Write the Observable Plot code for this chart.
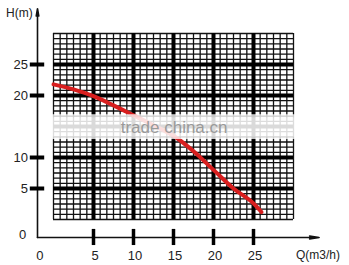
<!DOCTYPE html>
<html>
<head>
<meta charset="utf-8">
<script src="https://cdn.jsdelivr.net/npm/d3@7"></script>
<script src="https://cdn.jsdelivr.net/npm/@observablehq/plot@0.6"></script>
<style>
  html, body { margin: 0; padding: 0; background: #fff; }
  #chart svg { display: block; }
</style>
</head>
<body>
<div id="chart"></div>
<script>
// Pump curve: flow Q (m3/h) vs head H (m)
const flowQ = [0, 2.5, 5, 7.5, 10, 12.5, 15, 17.5, 20, 22.5, 25, 26];
const headH = [21.8, 21, 19.9, 18.4, 16.8, 15.2, 13.5, 11, 8, 5, 2.6, 1.2];
const xTickLabels = ["0", "5", "10", "15", "20", "25"];
const xTickValues = [0, 5, 10, 15, 20, 25];
const yTickLabels = ["0", "5", "10", "20", "25"];
const yTickValues = [0, 5, 10, 20, 25];
const xTitle = "Q(m3/h)";
const yTitle = "H(m)";
const watermark = "trade china.cn";

const curve = flowQ.map((q, i) => ({q, h: headH[i]}));

// layout constants (in data units, outside the grid)
const AX = -2;      // y-axis line position (Q)
const AY = -2.9;    // x-axis line position (H)
const GMAX = 30;
const fine = d3.range(0, 37).map(k => k * 5 / 6);
const major = [5, 10, 15, 20, 25];
const font = "Liberation Sans, Arial, sans-serif";

const chart = Plot.plot({
  width: 349,
  height: 265,
  margin: 0,
  style: {background: "#fff", fontFamily: font},
  x: {domain: [0, GMAX], range: [53, 293], axis: null},
  y: {domain: [0, GMAX], range: [219, 33], axis: null},
  marks: [
    // fine grid
    Plot.ruleX(fine, {y1: 0, y2: GMAX, stroke: "#111", strokeWidth: 1.3}),
    Plot.ruleY(fine, {x1: 0, x2: GMAX, stroke: "#111", strokeWidth: 1.3}),
    // major grid
    Plot.ruleX(major, {y1: 0, y2: GMAX, stroke: "#000", strokeWidth: 4}),
    Plot.ruleY(major, {x1: 0, x2: GMAX, stroke: "#000", strokeWidth: 4}),
    // curve
    Plot.line(curve, {x: "q", y: "h", stroke: "#d81e1e", strokeWidth: 4, curve: "monotone-x"}),
    // watermark band
    Plot.rect([0], {x1: -2.9, x2: 31, y1: 12.9, y2: 16.9, fill: "#fff", fillOpacity: 0.78}),
    Plot.rect([0], {x1: -2.6, x2: 30.5, y1: 13.3, y2: 16.4, fill: "#fff", fillOpacity: 0.35}),
    Plot.text([watermark], {x: 8.4, y: 14.9, text: d => d, textAnchor: "start", fontSize: 17, fill: "#9a9a9a", fontWeight: 300}),
    // axes
    Plot.arrow([0], {x1: AX, y1: AY, x2: AX, y2: 34, stroke: "#111", strokeWidth: 1.6, headLength: 7, headAngle: 20}),
    Plot.arrow([0], {x1: AX, y1: AY, x2: 33.2, y2: AY, stroke: "#111", strokeWidth: 1.6, headLength: 9, headAngle: 18}),
    // ticks
    Plot.ruleY(yTickValues.filter(v => v > 0), {x1: -2.9, x2: -1.1, stroke: "#000", strokeWidth: 4}),
    Plot.ruleX(xTickValues.filter(v => v > 0), {y1: -1.6, y2: -4.2, stroke: "#000", strokeWidth: 3.5}),
    // tick labels
    Plot.text(yTickValues.filter(v => v > 0), {x: -3.2, y: d => d, text: (d, i) => yTickLabels[i + 1], textAnchor: "end", fontSize: 13, fill: "#222", fontFamily: font}),
    Plot.text([yTickLabels[0]], {x: -3.4, y: -2.5, text: d => d, textAnchor: "end", fontSize: 13, fill: "#222", fontFamily: font}),
    Plot.text(xTickValues, {x: d => d === 0 ? -1.7 : d + 0.2, y: -5.8, text: (d, i) => xTickLabels[i], textAnchor: "middle", fontSize: 13, fill: "#222", fontFamily: font}),
    // titles
    Plot.text([yTitle], {x: -2.6, y: 33.3, text: d => d, textAnchor: "end", fontSize: 12, fill: "#222", fontFamily: font}),
    Plot.text([xTitle], {x: 30.3, y: -5.8, text: d => d, textAnchor: "start", fontSize: 12, fill: "#222", fontFamily: font})
  ]
});
document.getElementById("chart").appendChild(chart);
</script>
</body>
</html>
